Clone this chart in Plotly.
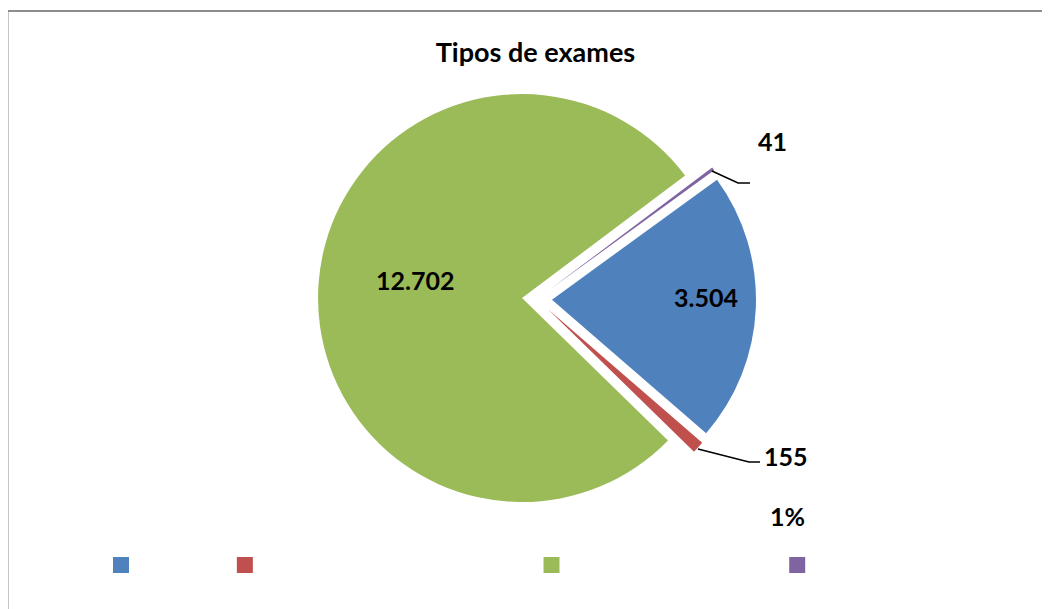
import plotly.graph_objects as go

W, H = 1050, 609
OFF = 8  # the page body margin shifts the figure by 8px

# legend names are blank in the source chart: distinct blank strings of the right width
labels = ["\u00a0" * 22, "\u00a0" * 73, "\u00a0" * 56, "\u00a0" * 5]
values = [3504, 155, 12702, 41]
colors = ["#4f81bd", "#c0504d", "#9bbb59", "#8064a2"]
percent_note = "1%"

FONT = "Lato, 'Open Sans', sans-serif"
LABEL_FONT = dict(family=FONT, size=25, color="black", weight="bold")


def px_x(x):
    return (x - OFF) / W


def px_y(y):
    return 1 - (y - OFF) / H


def fmt(v):
    return f"{v:,}".replace(",", ".")


# pie centre / radius measured on the reference (page pixels); every slice exploded
cx, cy, r = 537, 299, 204
explode = 0.0735
half = r * (1 + explode)

fig = go.Figure()

# tiny pie parked off-screen: only there to give the legend bigger swatches
fig.add_trace(go.Pie(
    labels=labels, values=values, sort=False,
    marker=dict(colors=colors, line=dict(color=colors, width=4)),
    textinfo="none", hoverinfo="skip",
    domain=dict(x=[0, 0.001], y=[0, 0.001]),
))

fig.add_trace(go.Pie(
    labels=labels,
    values=values,
    sort=False,
    direction="clockwise",
    rotation=54,
    pull=explode,
    marker=dict(colors=colors, line=dict(width=0)),
    textinfo="none",
    automargin=False,
    showlegend=False,
    domain=dict(
        x=[px_x(cx - half), px_x(cx + half)],
        y=[px_y(cy + half), px_y(cy - half)],
    ),
    hoverinfo="value+percent",
))

# data labels placed where the source chart has them
label_pos = [(706, 297), (786, 456), (415, 280), (772, 141)]
for v, (x, y) in zip(values, label_pos):
    fig.add_annotation(
        x=px_x(x), y=px_y(y), xref="paper", yref="paper",
        xanchor="center", yanchor="middle",
        text=fmt(v), showarrow=False, font=LABEL_FONT,
    )

fig.add_annotation(
    x=px_x(787), y=px_y(516), xref="paper", yref="paper",
    xanchor="center", yanchor="middle",
    text=percent_note, showarrow=False, font=LABEL_FONT,
)

# leader lines for the two small slices
for path in ["M698,449 L749,462 L760,462", "M712,171 L738,183 L750,183"]:
    fig.add_shape(type="path", path=path, xref="x", yref="y",
                  line=dict(color="black", width=1.5))

# chart frame
fig.add_shape(type="rect", xref="paper", yref="paper",
              x0=px_x(7.5), y0=-0.05, x1=1.05, y1=px_y(11),
              line=dict(color="#8c8c8c", width=2), layer="below")

fig.update_layout(
    width=W,
    height=H,
    margin=dict(l=0, r=0, t=0, b=0),
    paper_bgcolor="white",
    plot_bgcolor="rgba(0,0,0,0)",
    separators=",.",
    font=dict(family=FONT, color="black"),
    title=dict(
        text="<b>Tipos de exames</b>",
        x=px_x(535.5), y=px_y(53), xanchor="center", yanchor="middle",
        font=dict(family=FONT, size=27, color="black"),
    ),
    xaxis=dict(range=[OFF, W + OFF], visible=False, fixedrange=True),
    yaxis=dict(range=[H + OFF, OFF], visible=False, fixedrange=True),
    showlegend=True,
    legend=dict(
        orientation="h",
        x=px_x(101), y=px_y(565.5), xanchor="left", yanchor="middle",
        font=dict(family=FONT, size=14),
        traceorder="normal",
    ),
)

fig.write_html("out.html")
